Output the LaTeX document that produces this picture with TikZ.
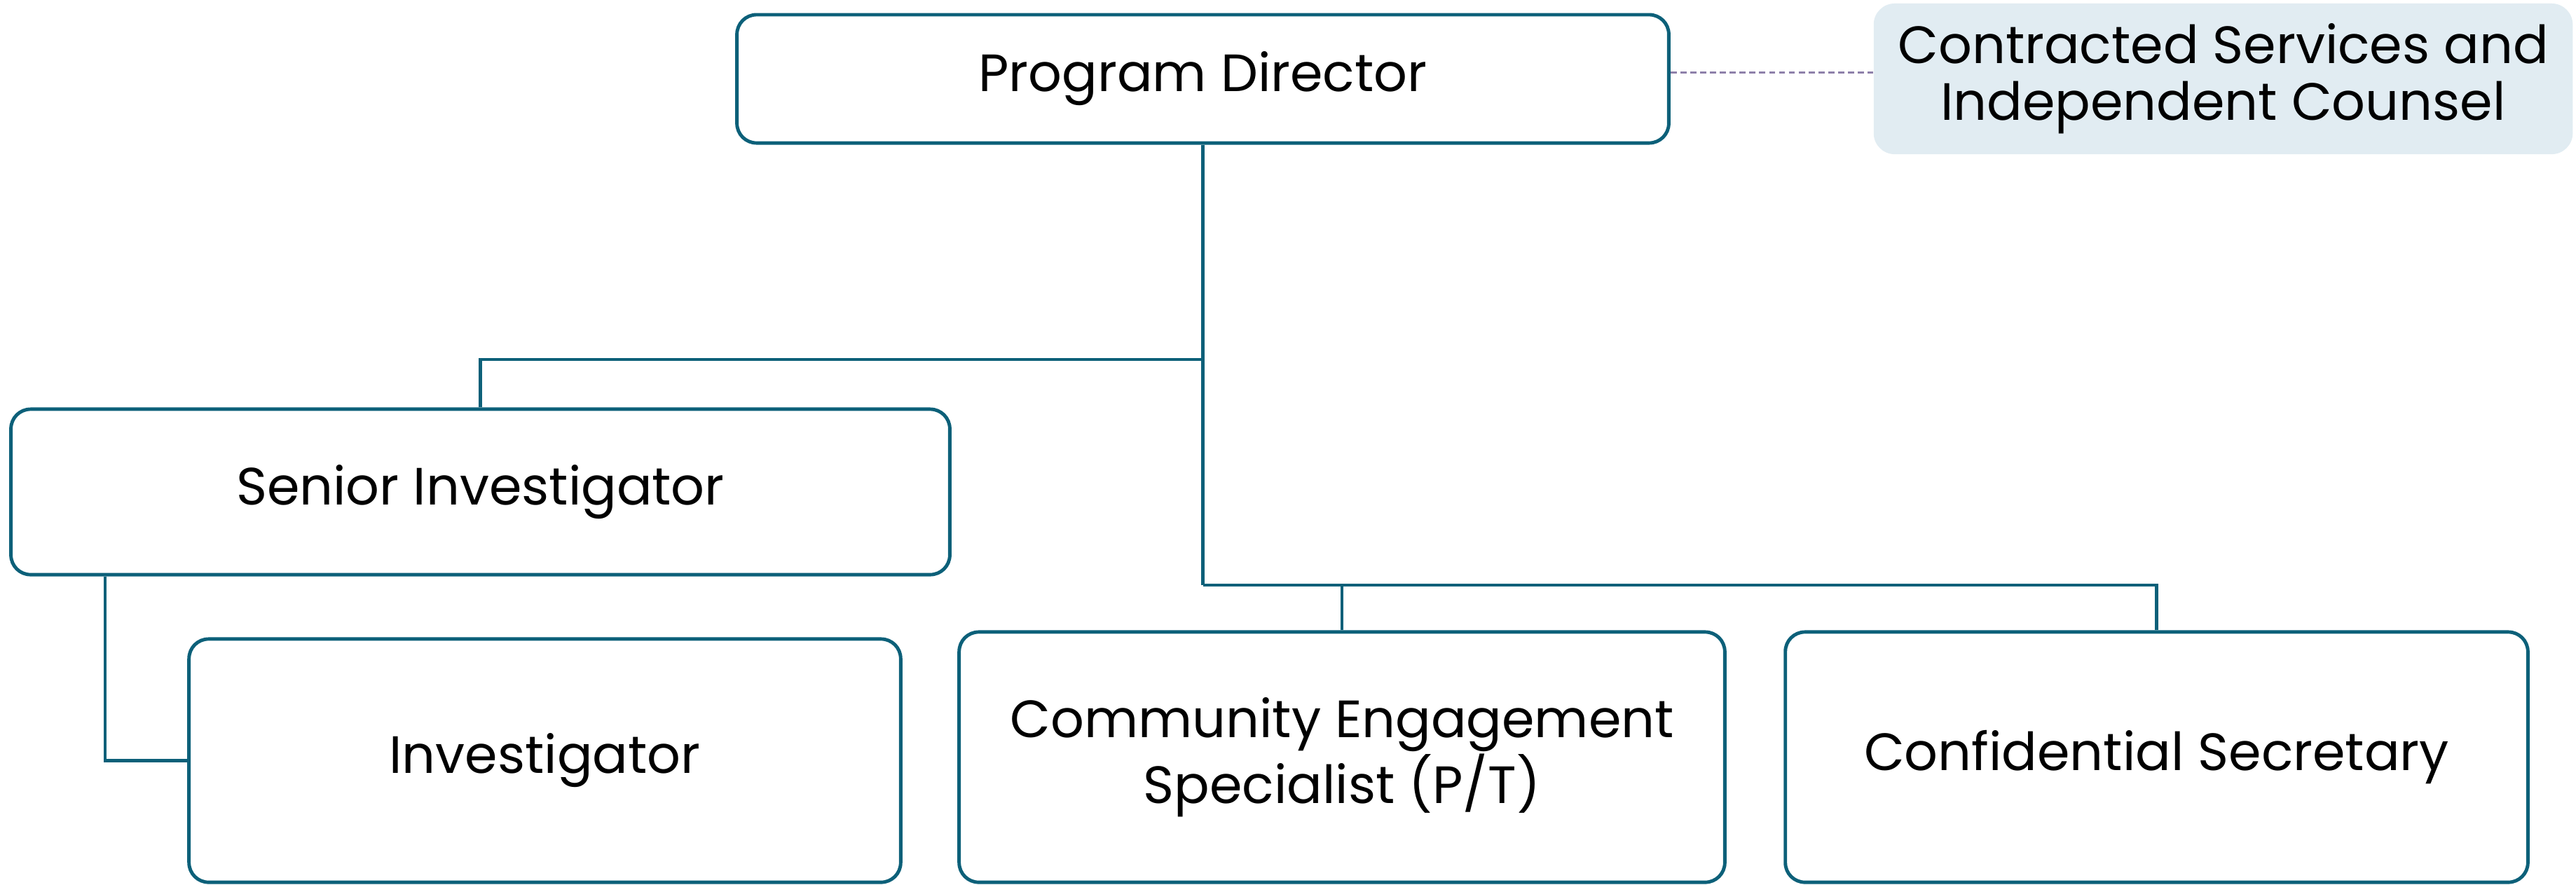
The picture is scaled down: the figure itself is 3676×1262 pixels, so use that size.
\documentclass[tikz,border=0pt]{standalone}
\usepackage{fontspec}
\setmainfont{Poppins}
\definecolor{teal}{RGB}{12,96,121}
\definecolor{paleblue}{RGB}{225,236,242}
\definecolor{dashcol}{RGB}{142,128,170}
\begin{document}
\begin{tikzpicture}[x=0.01cm,y=-0.01cm,
  box/.style={draw=teal,line width=1.4pt,rounded corners=0.28cm,fill=white,
    align=center,inner sep=0pt,font=\fontsize{21.3}{23.5}\selectfont},
  extbox/.style={fill=paleblue,rounded corners=0.3cm,align=center,inner sep=0pt,
    font=\fontsize{21.3}{23}\selectfont},
  link/.style={draw=teal,line width=1.4pt},
  dotlink/.style={draw=dashcol,line width=0.8pt,dash pattern=on 2.5pt off 1.5pt}]
\useasboundingbox (0,0) rectangle (3676,1262);
\node[box,minimum width=13.29cm,minimum height=1.83cm] (PD) at (1716.5,112.5) {Program Director};
\node[extbox,minimum width=9.97cm,minimum height=2.15cm] (CS) at (3172.5,112.5) {Contracted Services and\\Independent Counsel};
\node[box,minimum width=13.39cm,minimum height=2.36cm] (SI) at (685.5,702) {Senior Investigator};
\node[box,minimum width=10.15cm,minimum height=3.47cm] (INV) at (777.5,1085.5) {Investigator};
\node[box,minimum width=10.92cm,minimum height=3.57cm] (CES) at (1915,1080.5) {Community Engagement\\Specialist (P/T)};
\node[box,minimum width=10.59cm,minimum height=3.57cm] (SEC) at (3077.5,1080.5) {Confidential Secretary};
\coordinate (J1) at (1716.5,513);
\coordinate (J2) at (1716.5,835);
\coordinate (SIb) at (150,820);
\draw[dotlink] ([yshift=0.09cm]PD.east) -- ([yshift=0.09cm]CS.west);
\draw[link] (PD.south) -- (J2);
\draw[link] (J1) -| (SI.north);
\draw[link] (J2) -| (CES.north);
\draw[link] (J2) -| (SEC.north);
\draw[link] (SIb |- SI.south) |- (INV.west);
\end{tikzpicture}
\end{document}
